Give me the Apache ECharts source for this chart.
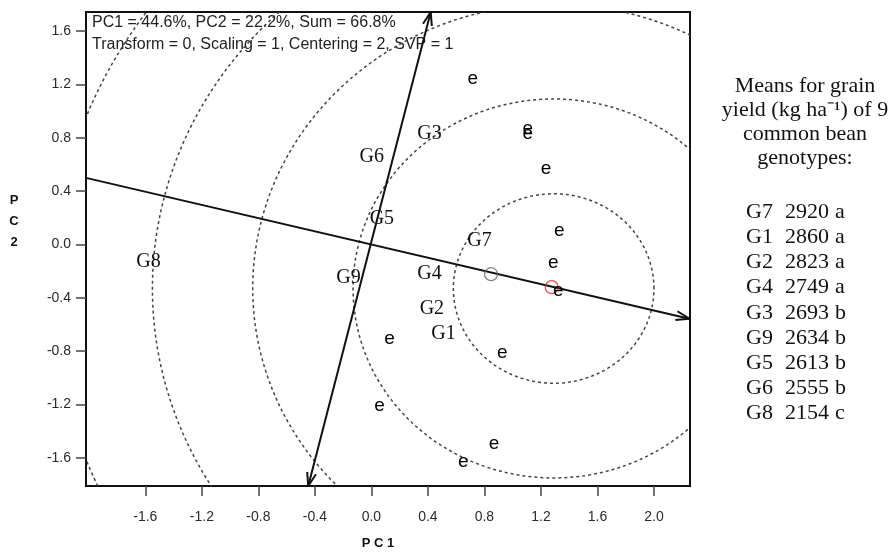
<!DOCTYPE html>
<html>
<head>
<meta charset="utf-8">
<script src="https://cdn.jsdelivr.net/npm/echarts@6/dist/echarts.min.js"></script>
<style>
html,body{margin:0;padding:0;background:#fff;}
#chart{width:895px;height:553px;}
</style>
</head>
<body>
<div id="chart"></div>
<script>
// ---------- data ----------
const xTicks = [-1.6, -1.2, -0.8, -0.4, 0.0, 0.4, 0.8, 1.2, 1.6, 2.0];
const yTicks = [-1.6, -1.2, -0.8, -0.4, 0.0, 0.4, 0.8, 1.2, 1.6];
const xRange = [-2.02, 2.255];
const yRange = [-1.81, 1.742];

const genotypeNames = ['G1', 'G2', 'G3', 'G4', 'G5', 'G6', 'G7', 'G8', 'G9'];
const genotypePC1 = [0.51, 0.428, 0.411, 0.411, 0.074, 0.003, 0.765, -1.578, -0.162];
const genotypePC2 = [-0.670, -0.478, 0.833, -0.223, 0.189, 0.658, 0.026, -0.131, -0.246];

const envNames = ['e', 'e', 'e', 'e', 'e', 'e', 'e', 'e', 'e', 'e', 'e', 'e'];
const envPC1 = [0.718, 1.107, 1.107, 1.236, 1.33, 1.288, 1.323, 0.128, 0.927, 0.057, 0.868, 0.651];
const envPC2 = [1.24, 0.870, 0.828, 0.566, 0.103, -0.136, -0.348, -0.703, -0.808, -1.21, -1.497, -1.627];

const avgEnvPoint = [0.847, -0.223];
const idealPoint = [1.276, -0.32];

const circleCenter = [1.29, -0.33];
const circleRadii = [0.71, 1.42, 2.13, 2.84, 3.55];

// axis lines: [x1, y1, x2, y2, arrowAtStart, arrowAtEnd]
const aecAbscissa = [-2.02, 0.499, 2.25, -0.556, 0, 1];
const aecOrdinate = [-0.447, -1.81, 0.42, 1.742, 1, 1];

const infoLines = ['PC1 = 44.6%, PC2 = 22.2%, Sum = 66.8%', 'Transform = 0, Scaling = 1, Centering = 2, SVP = 1'];
const sideTitle = ['Means for grain', 'yield (kg ha\u207B\u00B9) of 9', 'common bean', 'genotypes:'];
const tableGenotypes = ['G7', 'G1', 'G2', 'G4', 'G3', 'G9', 'G5', 'G6', 'G8'];
const tableMeans = [2920, 2860, 2823, 2749, 2693, 2634, 2613, 2555, 2154];
const tableGroups = ['a', 'a', 'a', 'a', 'b', 'b', 'b', 'b', 'c'];

// ---------- chart ----------
const chart = echarts.init(document.getElementById('chart'), null, {renderer: 'canvas'});

const SERIF = '"Liberation Serif", "Times New Roman", serif';
const SANS = '"Liberation Sans", Arial, sans-serif';

function circleRender(params, api) {
  const cx = api.value(0), cy = api.value(1), r = api.value(2);
  const pts = [];
  const n = 240;
  for (let i = 0; i <= n; i++) {
    const t = (i / n) * Math.PI * 2;
    pts.push(api.coord([cx + r * Math.cos(t), cy + r * Math.sin(t)]));
  }
  const cs = params.coordSys;
  return {
    type: 'group',
    clipPath: {type: 'rect', shape: {x: cs.x, y: cs.y, width: cs.width, height: cs.height}},
    children: [{
      type: 'polyline',
      shape: {points: pts},
      style: {stroke: '#444', lineWidth: 1.5, lineDash: [3, 3], fill: null}
    }]
  };
}

function arrowRender(params, api) {
  const p1 = api.coord([api.value(0), api.value(1)]);
  const p2 = api.coord([api.value(2), api.value(3)]);
  const children = [{
    type: 'line',
    shape: {x1: p1[0], y1: p1[1], x2: p2[0], y2: p2[1]},
    style: {stroke: '#111', lineWidth: 2}
  }];
  const L = 14, a = 0.33;
  function head(tip, from) {
    const dx = tip[0] - from[0], dy = tip[1] - from[1];
    const len = Math.sqrt(dx * dx + dy * dy);
    const ux = dx / len, uy = dy / len;
    [a, -a].forEach(function (ang) {
      const c = Math.cos(ang), s = Math.sin(ang);
      const rx = ux * c - uy * s, ry = ux * s + uy * c;
      children.push({
        type: 'line',
        shape: {x1: tip[0], y1: tip[1], x2: tip[0] - L * rx, y2: tip[1] - L * ry},
        style: {stroke: '#111', lineWidth: 2}
      });
    });
  }
  if (api.value(4)) head(p1, p2);
  if (api.value(5)) head(p2, p1);
  return {type: 'group', children: children};
}

function textRender(names, font, color) {
  return function (params, api) {
    const p = api.coord([api.value(0), api.value(1)]);
    return {
      type: 'text', x: p[0], y: p[1],
      style: {text: names[params.dataIndex], font: font, fill: color, textAlign: 'center', textVerticalAlign: 'middle'}
    };
  };
}

const genotypeData = genotypeNames.map((n, i) => [genotypePC1[i], genotypePC2[i]]);
const envData = envPC1.map((x, i) => [x, envPC2[i]]);
const circleData = circleRadii.map(r => [circleCenter[0], circleCenter[1], r]);

const graphics = [];
infoLines.forEach(function (t, i) {
  graphics.push({
    type: 'text', x: 92, y: 23 + i * 22,
    style: {text: t, font: '16px ' + SANS, fill: '#222', textVerticalAlign: 'middle'}
  });
});
sideTitle.forEach(function (t, i) {
  graphics.push({
    type: 'text', x: 805, y: 86 + i * 24,
    style: {text: t, font: '22px ' + SERIF, fill: '#111', textAlign: 'center', textVerticalAlign: 'middle'}
  });
});
tableGenotypes.forEach(function (g, i) {
  const y = 212 + i * 25.2;
  graphics.push({type: 'text', x: 746, y: y,
    style: {text: g, font: '22px ' + SERIF, fill: '#111', textAlign: 'left', textVerticalAlign: 'middle'}});
  graphics.push({type: 'text', x: 785, y: y,
    style: {text: String(tableMeans[i]), font: '22px ' + SERIF, fill: '#111', textAlign: 'left', textVerticalAlign: 'middle'}});
  graphics.push({type: 'text', x: 835, y: y,
    style: {text: tableGroups[i], font: '22px ' + SERIF, fill: '#111', textAlign: 'left', textVerticalAlign: 'middle'}});
});
graphics.push({
  type: 'text', x: 378, y: 543,
  style: {text: 'P C 1', font: 'bold 13px ' + SANS, fill: '#111', textAlign: 'center', textVerticalAlign: 'middle'}
});
['P', 'C', '2'].forEach(function (c, i) {
  graphics.push({
    type: 'text', x: 14, y: 200 + i * 21,
    style: {text: c, font: 'bold 13px ' + SANS, fill: '#111', textAlign: 'center', textVerticalAlign: 'middle'}
  });
});

const option = {
  animation: false,
  backgroundColor: '#fff',
  grid: {left: 86, right: 205, top: 12, bottom: 67,
    show: true, borderColor: '#111', borderWidth: 2, containLabel: false},
  xAxis: {
    type: 'value', min: xRange[0], max: xRange[1],
    axisLine: {show: false, onZero: false},
    splitLine: {show: false},
    axisTick: {show: true, customValues: xTicks, length: 10, lineStyle: {color: '#444', width: 1.5}},
    axisLabel: {show: true, customValues: xTicks, margin: 24,
      formatter: v => v.toFixed(1), fontFamily: SANS, fontSize: 14, color: '#2a2a2a'}
  },
  yAxis: {
    type: 'value', min: yRange[0], max: yRange[1],
    axisLine: {show: false, onZero: false},
    splitLine: {show: false},
    axisTick: {show: true, customValues: yTicks, length: 10, lineStyle: {color: '#444', width: 1.5}},
    axisLabel: {show: true, customValues: yTicks, margin: 15,
      formatter: v => v.toFixed(1), fontFamily: SANS, fontSize: 14, color: '#2a2a2a'}
  },
  graphic: graphics,
  series: [
    {type: 'custom', name: 'circles', renderItem: circleRender, data: circleData, z: 1, silent: true,
      encode: {x: 0, y: 1}},
    {type: 'custom', name: 'axes', renderItem: arrowRender, data: [aecAbscissa, aecOrdinate], z: 2, silent: true,
      encode: {x: [0, 2], y: [1, 3]}},
    {type: 'scatter', name: 'avg', data: [avgEnvPoint], symbol: 'circle', symbolSize: 13, z: 3,
      itemStyle: {color: 'rgba(0,0,0,0)', borderColor: '#666', borderWidth: 1.3}},
    {type: 'scatter', name: 'ideal', data: [idealPoint], symbol: 'circle', symbolSize: 13, z: 3,
      itemStyle: {color: 'rgba(0,0,0,0)', borderColor: '#e8262a', borderWidth: 1.3}},
    {type: 'custom', name: 'env', data: envData, z: 4, silent: true,
      renderItem: textRender(envNames, '19px ' + SANS, '#000'), encode: {x: 0, y: 1}},
    {type: 'custom', name: 'gen', data: genotypeData, z: 4, silent: true,
      renderItem: textRender(genotypeNames, '20px ' + SERIF, '#111'), encode: {x: 0, y: 1}}
  ]
};
chart.setOption(option);
</script>
</body>
</html>
